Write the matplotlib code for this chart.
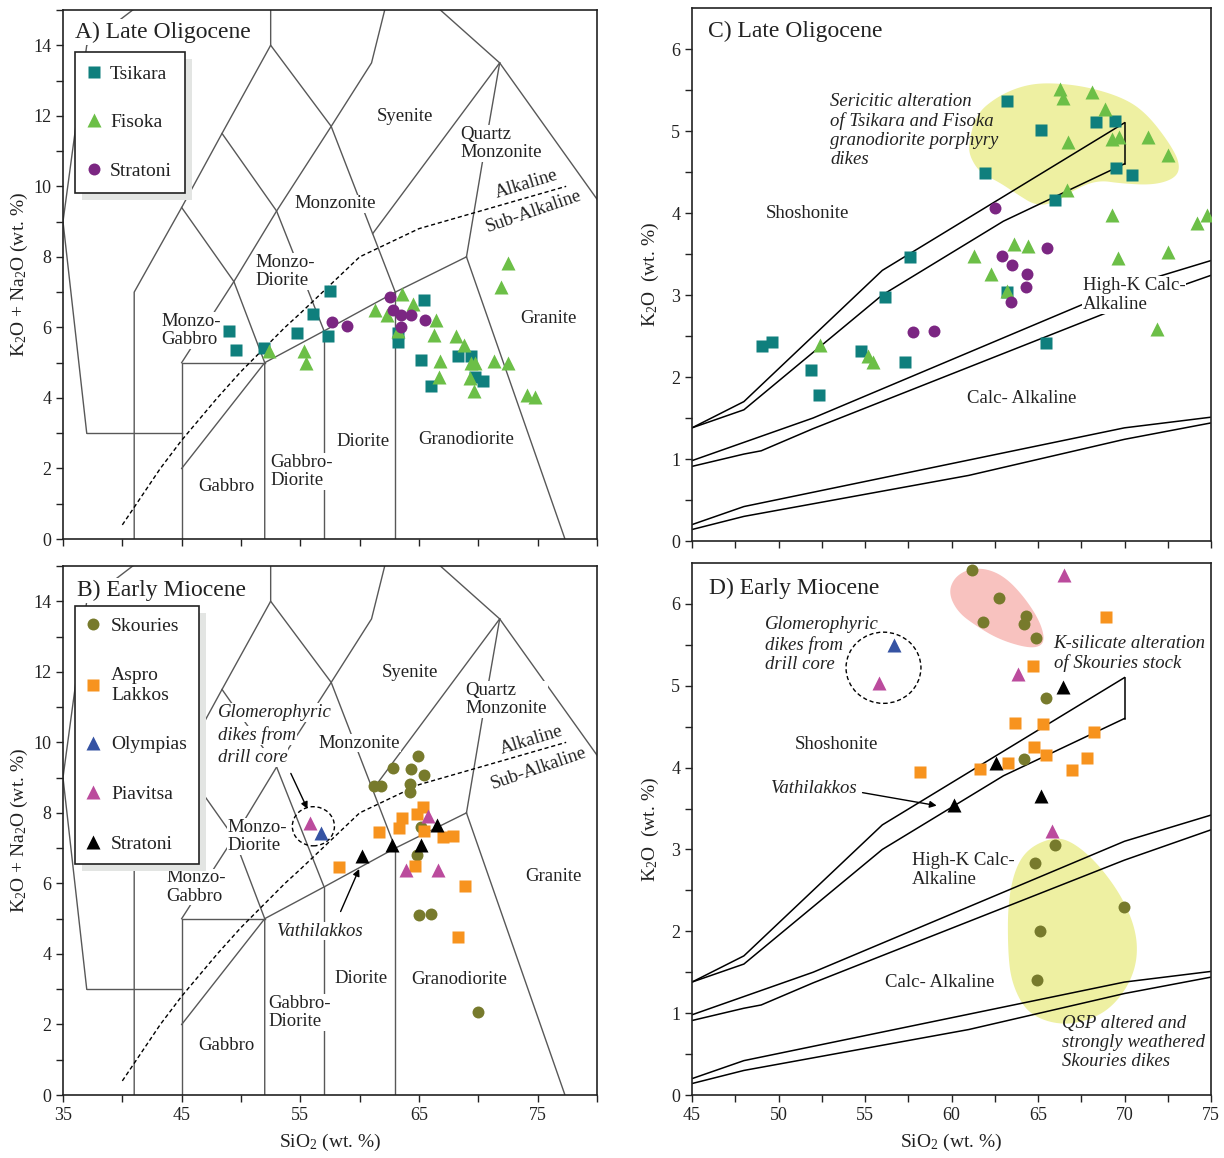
import numpy as np
import matplotlib
matplotlib.use('Agg')
import matplotlib.pyplot as plt
from matplotlib.patches import Ellipse, Polygon, Rectangle
from matplotlib.transforms import IdentityTransform

plt.rcParams['font.family'] = ['Liberation Serif', 'DejaVu Serif']
plt.rcParams['mathtext.fontset'] = 'custom'
plt.rcParams['mathtext.rm'] = 'Liberation Serif'
plt.rcParams['mathtext.it'] = 'Liberation Serif:italic'

# ---------------- DATA ----------------
# Panel A: Late Oligocene, TAS (SiO2, Na2O+K2O)
a_tsikara_sio2 = [49.0, 49.6, 51.9, 54.7, 56.1, 57.5, 57.3, 65.4, 63.2, 63.2, 65.2, 68.3, 69.4, 69.7, 70.4, 66.0]
a_tsikara_alk = [5.89, 5.37, 5.41, 5.84, 6.37, 7.02, 5.76, 6.77, 5.59, 5.84, 5.07, 5.20, 5.19, 4.58, 4.48, 4.35]
a_fisoka_sio2 = [52.35, 55.3, 55.5, 61.3, 62.3, 63.6, 64.5, 63.2, 66.4, 66.3, 68.1, 68.8, 66.8, 69.4, 69.7,
                 66.7, 69.3, 69.6, 71.3, 72.5, 72.5, 71.9, 74.1, 74.8]
a_fisoka_alk = [5.34, 5.34, 5.00, 6.50, 6.34, 6.95, 6.67, 5.89, 6.21, 5.79, 5.77, 5.49, 5.04, 5.00, 4.98,
                4.58, 4.56, 4.20, 5.04, 4.98, 7.82, 7.15, 4.08, 4.03]
a_stratoni_sio2 = [62.56, 57.7, 58.9, 62.85, 63.5, 64.3, 65.5, 63.5]
a_stratoni_alk = [6.87, 6.16, 6.04, 6.50, 6.36, 6.34, 6.22, 6.01]

# Panel B: Early Miocene, TAS
b_skouries_sio2 = [64.9, 62.8, 64.3, 65.4, 61.2, 61.8, 64.2, 64.2, 65.15, 64.8, 65.0, 66.0, 70.0]
b_skouries_alk = [9.60, 9.28, 9.25, 9.06, 8.77, 8.77, 8.83, 8.60, 7.61, 6.80, 5.10, 5.13, 2.34]
b_aspro_sio2 = [58.25, 61.65, 63.35, 63.6, 64.8, 65.35, 65.45, 67.0, 67.9, 64.7, 68.9, 68.3]
b_aspro_alk = [6.46, 7.47, 7.58, 7.86, 7.97, 8.17, 7.48, 7.32, 7.34, 6.50, 5.94, 4.49]
b_olympias_sio2 = [56.75]
b_olympias_alk = [7.43]
b_piavitsa_sio2 = [55.85, 63.9, 66.6, 65.8]
b_piavitsa_alk = [7.72, 6.37, 6.39, 7.91]
b_stratoni_sio2 = [60.2, 62.7, 65.15, 66.55]
b_stratoni_alk = [6.78, 7.10, 7.10, 7.66]

# Panel C: Late Oligocene, K2O
c_tsikara_sio2 = [49.05, 49.6, 51.9, 52.35, 54.75, 56.15, 57.6, 57.3, 61.95, 63.2, 63.2, 65.15, 65.45, 66.0,
                  68.35, 69.45, 69.5, 70.45]
c_tsikara_k2o = [2.38, 2.43, 2.08, 1.78, 2.32, 2.98, 3.46, 2.18, 4.49, 5.36, 3.04, 5.01, 2.42, 4.16,
                 5.11, 5.12, 4.55, 4.46]
c_fisoka_sio2 = [52.4, 55.2, 55.45, 61.3, 62.3, 63.2, 63.6, 64.45, 66.3, 66.45, 66.75, 66.65, 68.1, 68.85,
                 69.3, 69.7, 71.35, 72.5, 69.25, 69.6, 72.5, 71.85, 74.2, 74.75]
c_fisoka_k2o = [2.39, 2.26, 2.18, 3.48, 3.26, 3.05, 3.62, 3.60, 5.51, 5.40, 4.86, 4.28, 5.47, 5.27,
                4.90, 4.93, 4.93, 4.71, 3.97, 3.45, 3.53, 2.58, 3.88, 3.97]
c_stratoni_sio2 = [62.5, 57.75, 59.0, 62.9, 63.5, 64.35, 64.3, 63.45, 65.5]
c_stratoni_k2o = [4.06, 2.55, 2.56, 3.47, 3.36, 3.26, 3.10, 2.92, 3.57]

# Panel D: Early Miocene, K2O
d_skouries_sio2 = [61.2, 62.75, 61.8, 64.3, 64.2, 64.9, 65.45, 64.2, 66.0, 64.8, 69.95, 65.1, 64.95]
d_skouries_k2o = [6.42, 6.07, 5.78, 5.85, 5.75, 5.58, 4.85, 4.11, 3.06, 2.84, 2.30, 2.00, 1.40]
d_aspro_sio2 = [58.2, 61.65, 63.25, 63.65, 64.7, 64.75, 65.3, 65.45, 66.95, 67.85, 68.25, 68.95]
d_aspro_k2o = [3.95, 3.98, 4.06, 4.55, 5.24, 4.25, 4.53, 4.16, 3.97, 4.12, 4.44, 5.84]
d_olympias_sio2 = [56.65]
d_olympias_k2o = [5.50]
d_piavitsa_sio2 = [55.8, 63.85, 66.5, 65.8]
d_piavitsa_k2o = [5.03, 5.14, 6.35, 3.23]
d_stratoni_sio2 = [60.15, 62.6, 65.15, 66.45]
d_stratoni_k2o = [3.54, 4.06, 3.65, 4.99]

# Irvine & Baragar alkaline / sub-alkaline divide
ib_sio2 = [40, 43.2, 45, 48, 50, 53.7, 55, 60, 65, 77.4]
ib_alk = [0.4, 2.0, 2.8, 4.0, 4.75, 6.0, 6.4, 8.0, 8.8, 10.0]

# TAS (plutonic) field boundaries
tas_lines = [
    [(41, 0), (41, 7), (45, 9.4), (48.4, 11.5), (52.5, 14), (52.5, 16)],
    [(37, 3), (35, 9), (37, 14), (52.5, 18)],
    [(37, 3), (45, 3)],
    [(45, 0), (45, 5), (52, 5)],
    [(45, 2), (52, 5)],
    [(52, 0), (52, 5), (57, 5.9), (63, 7), (69, 8)],
    [(57, 0), (57, 5.9)],
    [(63, 0), (63, 7)],
    [(45, 9.4), (49.4, 7.3), (52, 5)],
    [(45, 5), (49.4, 7.3), (53, 9.3), (57.6, 11.7), (61, 13.5), (63, 16.2)],
    [(48.4, 11.5), (53, 9.3), (57, 5.9)],
    [(52.5, 14), (57.6, 11.7), (63, 7)],
    [(61.1, 8.66), (71.8, 13.5)],
    [(69, 8), (70.3, 10.6), (71.8, 13.5)],
    [(63, 16.14), (71.8, 13.5), (80.5, 9.4)],
    [(69, 8), (77.3, 0)],
]

# K2O-SiO2 boundaries (doubled lines)
k_lines = [
    [(45, 1.38), (48, 1.7), (56, 3.3), (70, 5.1)],
    [(45, 1.38), (48, 1.6), (56, 3.0), (63, 3.9), (70, 4.6)],
    [(70, 4.6), (70, 5.1)],
    [(45, 0.98), (52, 1.5), (70, 3.1), (75, 3.42)],
    [(45, 0.91), (48, 1.06), (49, 1.1), (52, 1.37), (70, 2.87), (75, 3.24)],
    [(45, 0.2), (48, 0.42), (70, 1.38), (75, 1.51)],
    [(45, 0.14), (48, 0.3), (61, 0.8), (70, 1.24), (75, 1.44)],
]

# Alteration field outlines
c_seric_field = [(61.0, 4.86), (61.43, 5.21), (62.72, 5.43), (64.22, 5.56), (65.72, 5.59), (67.86, 5.54),
                 (70.0, 5.40), (71.29, 5.21), (72.58, 4.86), (73.22, 4.6), (73.0, 4.43), (71.72, 4.34),
                 (69.79, 4.36), (68.5, 4.40), (67.22, 4.30), (65.93, 4.12), (64.86, 4.09), (63.79, 4.23),
                 (62.72, 4.38), (61.65, 4.49), (61.05, 4.69)]
d_ksil_field = [(59.83, 6.13), (60.15, 6.32), (61.0, 6.43), (62.08, 6.43), (63.15, 6.32), (64.22, 6.08),
                (65.08, 5.80), (65.40, 5.57), (65.08, 5.47), (64.22, 5.47), (62.72, 5.57), (61.43, 5.73),
                (60.36, 5.90)]
d_qsp_field = [(63.68, 2.77), (64.43, 3.01), (65.72, 3.14), (66.79, 3.12), (68.29, 2.87), (69.79, 2.45),
               (70.65, 2.03), (70.76, 1.66), (70.22, 1.33), (69.15, 1.05), (67.86, 0.91), (66.58, 0.86),
               (65.29, 0.91), (64.22, 1.05), (63.47, 1.38), (63.26, 1.75), (63.26, 2.35)]

# ---------------- STYLE ----------------
C_TEAL = '#0f7f7d'
C_GREEN = '#6cbf47'
C_PURPLE = '#7b2682'
C_OLIVE = '#777a2c'
C_ORANGE = '#f7931e'
C_BLUE = '#3553a3'
C_MAGENTA = '#bb4b9d'
C_BLACK = '#000000'
LINE_GRAY = '#585858'
TXT = '#222222'

FS_LAB = 13.5
FS_TITLE = 17


def chaikin(pts, n=4):
    p = np.array(pts, dtype=float)
    for _ in range(n):
        q = np.roll(p, -1, axis=0)
        a = 0.75 * p + 0.25 * q
        b = 0.25 * p + 0.75 * q
        inter = np.empty((2 * len(p), 2))
        inter[0::2] = a
        inter[1::2] = b
        p = inter
    return p


fig = plt.figure(figsize=(12.24, 11.58), dpi=100)
axA = fig.add_axes([63/1224, 1 - 539/1158, 534/1224, 529/1158])
axB = fig.add_axes([63/1224, 1 - 1095/1158, 534/1224, 529/1158])
axC = fig.add_axes([692/1224, 1 - 541/1158, 519/1224, 533/1158])
axD = fig.add_axes([692/1224, 1 - 1095/1158, 519/1224, 532/1158])


def style_axes(ax):
    for s in ax.spines.values():
        s.set_linewidth(1.2)
        s.set_color(TXT)
    ax.tick_params(which='both', direction='out', length=5, width=1, labelsize=13, color=TXT, labelcolor=TXT)


def tas_base(ax, show_xlabels):
    ax.set_xlim(35, 80)
    ax.set_ylim(0, 15)
    for ln in tas_lines:
        xs, ys = zip(*ln)
        ax.plot(xs, ys, color=LINE_GRAY, lw=1.0, zorder=1)
    ax.plot(ib_sio2, ib_alk, color='black', lw=1.0, ls=(0, (3, 2)), zorder=1)
    ax.set_xticks([35, 45, 55, 65, 75])
    ax.set_xticks([40, 50, 60, 70, 80], minor=True)
    ax.set_yticks(range(0, 15, 2))
    ax.set_yticks(range(1, 16, 2), minor=True)
    style_axes(ax)
    if not show_xlabels:
        ax.set_xticklabels([])
    else:
        ax.set_xlabel(r'SiO$_2$ (wt. %)', fontsize=14, labelpad=6, color=TXT)
    ax.set_ylabel(r'K$_2$O + Na$_2$O (wt. %)', fontsize=14, labelpad=2, color=TXT)


def k_base(ax, show_xlabels):
    ax.set_xlim(45, 75)
    ax.set_ylim(0, 6.5)
    for ln in k_lines:
        xs, ys = zip(*ln)
        ax.plot(xs, ys, color='black', lw=1.1, zorder=1)
    ax.set_xticks(range(45, 76, 5))
    ax.set_xticks(np.arange(47.5, 75, 5), minor=True)
    ax.set_yticks(range(0, 7))
    ax.set_yticks(np.arange(0.5, 6.5, 1), minor=True)
    style_axes(ax)
    if not show_xlabels:
        ax.set_xticklabels([])
    else:
        ax.set_xlabel(r'SiO$_2$ (wt. %)', fontsize=14, labelpad=6, color=TXT)
    ax.set_ylabel(r'K$_2$O  (wt. %)', fontsize=14, labelpad=7, color=TXT)


WB = dict(facecolor='white', edgecolor='none', pad=0.5)


def lab(ax, x, y, s, ha='center', va='center', bg=True, style='normal', fs=FS_LAB, rot=0, ls=1.1, z=3):
    kw = dict(bbox=WB) if bg else {}
    ax.text(x, y, s, ha=ha, va=va, fontsize=fs, style=style, rotation=rot, color=TXT,
            linespacing=ls, zorder=z, rotation_mode='anchor', **kw)


def title(ax, x, y, s):
    ax.text(x, y, s, fontsize=FS_TITLE, va='center', ha='left', color=TXT, zorder=3,
            bbox=dict(facecolor='white', edgecolor='none', pad=1.5))


def pts(ax, x, y, marker, color, ms, label=None):
    ax.plot(x, y, ls='none', marker=marker, color=color, ms=ms, mec='none', zorder=4, label=label)


SQ, TRI, CIR = 8.2, 10.5, 8.6

# ---------------- Panel A ----------------
tas_base(axA, False)
pts(axA, a_tsikara_sio2, a_tsikara_alk, 's', C_TEAL, SQ, 'Tsikara')
pts(axA, a_fisoka_sio2, a_fisoka_alk, '^', C_GREEN, TRI, 'Fisoka')
pts(axA, a_stratoni_sio2, a_stratoni_alk, 'o', C_PURPLE, CIR, 'Stratoni')
title(axA, 36.0, 14.37, 'A) Late Oligocene')
lab(axA, 63.8, 11.98, 'Syenite')
lab(axA, 68.5, 11.22, 'Quartz\nMonzonite', ha='left')
lab(axA, 57.9, 9.5, 'Monzonite')
lab(axA, 51.2, 7.58, 'Monzo-\nDiorite', ha='left')
lab(axA, 43.3, 5.92, 'Monzo-\nGabbro', ha='left')
lab(axA, 48.8, 1.5, 'Gabbro', bg=False)
lab(axA, 52.5, 1.92, 'Gabbro-\nDiorite', ha='left')
lab(axA, 60.3, 2.77, 'Diorite', bg=False)
lab(axA, 69.0, 2.82, 'Granodiorite', bg=False)
lab(axA, 75.9, 6.26, 'Granite', bg=False)
lab(axA, 74.1, 10.05, 'Alkaline', bg=False, rot=17)
lab(axA, 74.7, 9.3, 'Sub-Alkaline', bg=False, rot=19)

# ---------------- Panel B ----------------
tas_base(axB, True)
pts(axB, b_skouries_sio2, b_skouries_alk, 'o', C_OLIVE, CIR, 'Skouries')
pts(axB, b_aspro_sio2, b_aspro_alk, 's', C_ORANGE, SQ, 'Aspro\nLakkos')
pts(axB, b_olympias_sio2, b_olympias_alk, '^', C_BLUE, TRI, 'Olympias')
pts(axB, b_piavitsa_sio2, b_piavitsa_alk, '^', C_MAGENTA, TRI, 'Piavitsa')
pts(axB, b_stratoni_sio2, b_stratoni_alk, '^', C_BLACK, TRI, 'Stratoni')
title(axB, 36.2, 14.3, 'B) Early Miocene')
lab(axB, 64.2, 11.99, 'Syenite')
lab(axB, 68.9, 11.22, 'Quartz\nMonzonite', ha='left')
lab(axB, 48.05, 10.84, 'Glomerophyric', ha='left', style='italic')
lab(axB, 48.05, 10.2, 'dikes from', ha='left', style='italic')
lab(axB, 48.05, 9.57, 'drill core', ha='left', style='italic')
lab(axB, 60.0, 9.98, 'Monzonite', z=3.5)
lab(axB, 48.9, 7.32, 'Monzo-\nDiorite', ha='left')
lab(axB, 43.7, 5.9, 'Monzo-\nGabbro', ha='left')
lab(axB, 48.8, 1.39, 'Gabbro', bg=False)
lab(axB, 52.3, 2.33, 'Gabbro-\nDiorite', ha='left')
lab(axB, 60.1, 3.3, 'Diorite', bg=False)
lab(axB, 68.4, 3.27, 'Granodiorite', bg=False)
lab(axB, 76.3, 6.2, 'Granite', bg=False)
lab(axB, 74.5, 10.05, 'Alkaline', bg=False, rot=17)
lab(axB, 75.05, 9.26, 'Sub-Alkaline', bg=False, rot=19)
lab(axB, 56.6, 4.65, 'Vathilakkos', style='italic')
axB.add_patch(Ellipse((56.1, 7.62), 3.55, 1.11, fill=False, ls=(0, (3, 2)), lw=1.0, color='black', zorder=2))
axB.annotate('', xy=(55.7, 8.04), xytext=(54.1, 9.19),
             arrowprops=dict(arrowstyle='-|>', color='black', lw=1.0, mutation_scale=10), zorder=3)
axB.annotate('', xy=(60.05, 6.48), xytext=(58.3, 5.13),
             arrowprops=dict(arrowstyle='-|>', color='black', lw=1.0, mutation_scale=10), zorder=3)

# ---------------- Panel C ----------------
k_base(axC, False)
axC.add_patch(Polygon(chaikin(c_seric_field), closed=True, facecolor='#eef0a2', edgecolor='none', zorder=0.5))
pts(axC, c_tsikara_sio2, c_tsikara_k2o, 's', C_TEAL, SQ)
pts(axC, c_fisoka_sio2, c_fisoka_k2o, '^', C_GREEN, TRI)
pts(axC, c_stratoni_sio2, c_stratoni_k2o, 'o', C_PURPLE, CIR)
title(axC, 45.9, 6.21, 'C) Late Oligocene')
lab(axC, 51.7, 4.0, 'Shoshonite', bg=False)
lab(axC, 64.05, 1.74, 'Calc- Alkaline', bg=False)
lab(axC, 67.6, 3.0, 'High-K Calc-\nAlkaline', ha='left', ls=1.2)
lab(axC, 53.0, 5.01, 'Sericitic alteration\nof Tsikara and Fisoka\ngranodiorite porphyry\ndikes',
    ha='left', bg=False, style='italic', ls=1.15)

# ---------------- Panel D ----------------
k_base(axD, True)
axD.add_patch(Polygon(chaikin(d_ksil_field), closed=True, facecolor='#f8c2bf', edgecolor='none', zorder=0.5))
axD.add_patch(Polygon(chaikin(d_qsp_field), closed=True, facecolor='#eef0a2', edgecolor='none', zorder=0.5))
pts(axD, d_skouries_sio2, d_skouries_k2o, 'o', C_OLIVE, CIR)
pts(axD, d_aspro_sio2, d_aspro_k2o, 's', C_ORANGE, SQ)
pts(axD, d_olympias_sio2, d_olympias_k2o, '^', C_BLUE, TRI)
pts(axD, d_piavitsa_sio2, d_piavitsa_k2o, '^', C_MAGENTA, TRI)
pts(axD, d_stratoni_sio2, d_stratoni_k2o, '^', C_BLACK, TRI)
title(axD, 46.0, 6.19, 'D) Early Miocene')
lab(axD, 49.2, 5.5, 'Glomerophyric\ndikes from\ndrill core', ha='left', bg=False, style='italic', ls=1.2)
axD.add_patch(Ellipse((56.07, 5.22), 4.33, 0.87, fill=False, ls=(0, (3, 2)), lw=1.0, color='black', zorder=2))
lab(axD, 53.34, 4.28, 'Shoshonite', bg=False)
lab(axD, 52.0, 3.75, 'Vathilakkos', bg=False, style='italic')
axD.annotate('', xy=(59.3, 3.53), xytext=(54.7, 3.70),
             arrowprops=dict(arrowstyle='-|>', color='black', lw=1.0, mutation_scale=10), zorder=3)
lab(axD, 65.9, 5.39, 'K-silicate alteration\nof Skouries stock', ha='left', bg=False, style='italic', ls=1.15)
lab(axD, 57.7, 2.75, 'High-K Calc-\nAlkaline', ha='left', bg=False, ls=1.2)
lab(axD, 59.3, 1.37, 'Calc- Alkaline', bg=False)
lab(axD, 66.4, 0.64, 'QSP altered and\nstrongly weathered\nSkouries dikes', ha='left', bg=False,
    style='italic', ls=1.15)

# ---------------- Legends ----------------
legA = axA.legend(loc='upper left', bbox_to_anchor=(0.0225, 0.92), frameon=True, fancybox=False,
                  fontsize=14, labelspacing=1.6, handletextpad=0.45, handlelength=0.7, borderpad=0.65,
                  borderaxespad=0, markerscale=1.0)
legB = axB.legend(loc='upper left', bbox_to_anchor=(0.0225, 0.925), frameon=True, fancybox=False,
                  fontsize=14, labelspacing=1.65, handletextpad=0.55, handlelength=0.7, borderpad=0.6,
                  borderaxespad=0, markerscale=1.0)
for leg in (legA, legB):
    f = leg.get_frame()
    f.set_edgecolor(TXT)
    f.set_linewidth(1.2)
    f.set_alpha(1)
    leg.set_zorder(6)
    for t in leg.get_texts():
        t.set_color(TXT)

fig.canvas.draw()
for ax, leg in ((axA, legA), (axB, legB)):
    bb = leg.get_window_extent()
    sh = Rectangle((bb.x0 + 7, bb.y0 - 7), bb.width, bb.height, transform=IdentityTransform(),
                   facecolor='#e3e5e3', edgecolor='none', zorder=5.5, clip_on=False)
    ax.add_artist(sh)

fig.savefig('out.png', dpi=100)
